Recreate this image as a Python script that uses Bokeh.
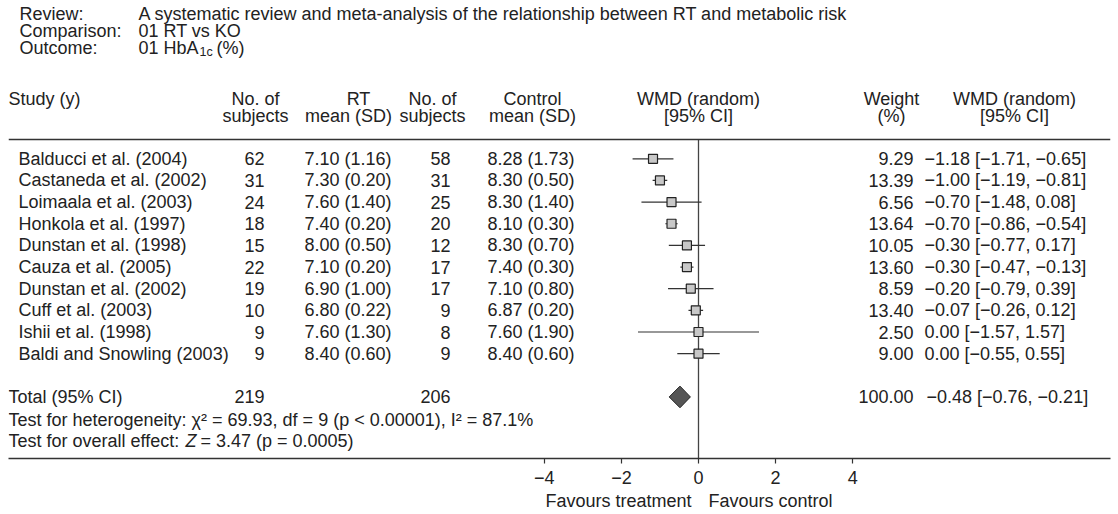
from bokeh.plotting import figure
from bokeh.layouts import column
from bokeh.models import Range1d, FixedTicker, ColumnDataSource, Span, CustomJSTickFormatter
from bokeh.core.properties import value
from bokeh.embed import file_html
from bokeh.resources import INLINE

# ---------------- data ----------------
studies = ["Balducci et al. (2004)", "Castaneda et al. (2002)", "Loimaala et al. (2003)",
           "Honkola et al. (1997)", "Dunstan et al. (1998)", "Cauza et al. (2005)",
           "Dunstan et al. (2002)", "Cuff et al. (2003)", "Ishii et al. (1998)",
           "Baldi and Snowling (2003)"]
n_rt = [62, 31, 24, 18, 15, 22, 19, 10, 9, 9]
rt_mean = [7.10, 7.30, 7.60, 7.40, 8.00, 7.10, 6.90, 6.80, 7.60, 8.40]
rt_sd = [1.16, 0.20, 1.40, 0.20, 0.50, 0.20, 1.00, 0.22, 1.30, 0.60]
n_ctl = [58, 31, 25, 20, 12, 17, 17, 9, 8, 9]
ctl_mean = [8.28, 8.30, 8.30, 8.10, 8.30, 7.40, 7.10, 6.87, 7.60, 8.40]
ctl_sd = [1.73, 0.50, 1.40, 0.30, 0.70, 0.30, 0.80, 0.20, 1.90, 0.60]
weight = [9.29, 13.39, 6.56, 13.64, 10.05, 13.60, 8.59, 13.40, 2.50, 9.00]
wmd = [-1.18, -1.00, -0.70, -0.70, -0.30, -0.30, -0.20, -0.07, 0.00, 0.00]
ci_lo = [-1.71, -1.19, -1.48, -0.86, -0.77, -0.47, -0.79, -0.26, -1.57, -0.55]
ci_hi = [-0.65, -0.81, 0.08, -0.54, 0.17, -0.13, 0.39, 0.12, 1.57, 0.55]

total_n_rt = 219
total_n_ctl = 206
total_weight = 100.00
total_wmd = -0.48
total_lo = -0.76
total_hi = -0.21

x_ticks = [-4, -2, 0, 2, 4]

review_text = "A systematic review and meta-analysis of the relationship between RT and metabolic risk"
comparison_text = "01 RT vs KO"
heterogeneity_text = "Test for heterogeneity: \u03c7\u00b2 = 69.93, df = 9 (p < 0.00001), I\u00b2 = 87.1%"
favours_left = "Favours treatment"
favours_right = "Favours control"

# ---------------- helpers ----------------
def f2(v):
    return f"{v:.2f}".replace("-", "\u2212")

ZERO_PX = 698.0
PX_PER_UNIT = 38.55
ROW0_PX = 158.3
ROW_PX = 21.65


def X(px):  # page-pixel column position -> WMD data units
    return (px - ZERO_PX) / PX_PER_UNIT


def Y(py):  # page-pixel row position -> row units
    return (py - ROW0_PX) / ROW_PX


FONT = value("Liberation Sans")
FS = "18px"
TXT = "#222222"

rows = list(range(len(studies)))
total_row = 11

W = 1116
LEFT, RIGHT = 8, 1110
H1 = 491
H2 = 21
FRAME_BOTTOM = 458

xr = Range1d(X(LEFT), X(RIGHT))


def base(fig):
    fig.min_border_left = LEFT
    fig.min_border_right = W - RIGHT
    fig.min_border_top = 0
    fig.outline_line_color = None
    fig.xgrid.visible = False
    fig.ygrid.visible = False
    fig.background_fill_color = "white"
    fig.border_fill_color = "white"


p = figure(width=W, height=H1, output_backend="svg", toolbar_location=None,
           x_range=xr, y_range=Range1d(Y(FRAME_BOTTOM), Y(0)),
           y_axis_location=None, tools="")
base(p)
p.min_border_bottom = H1 - FRAME_BOTTOM

ax = p.xaxis[0]
ax.ticker = FixedTicker(ticks=x_ticks)
ax.formatter = CustomJSTickFormatter(code="return tick < 0 ? '\\u2212' + Math.abs(tick) : String(tick);")
ax.axis_line_color = "#333333"
ax.axis_line_width = 1.5
ax.major_tick_line_color = "#333333"
ax.major_tick_line_width = 1.2
ax.major_tick_out = 5
ax.major_tick_in = 0
ax.minor_tick_line_color = None
ax.major_label_text_font = "Liberation Sans"
ax.major_label_text_font_size = FS
ax.major_label_text_color = TXT
ax.major_label_standoff = 7


def txt(fig, x, y, text, align="left", size=FS, style="normal"):
    src = ColumnDataSource(dict(x=x, y=y, text=text))
    fig.text(x="x", y="y", text="text", source=src, text_font=FONT, text_font_size=size,
             text_align=align, text_baseline="middle", text_color=TXT, text_font_style=style)


# ---- meta block ----
txt(p, [X(19)] * 3, [Y(13), Y(30), Y(47)], ["Review:", "Comparison:", "Outcome:"])
txt(p, [X(138)] * 2, [Y(13), Y(30)], [review_text, comparison_text])
txt(p, [X(138)], [Y(47)], ["01 HbA"])
txt(p, [X(199)], [Y(51)], ["1c"], size="12.5px")
txt(p, [X(216)], [Y(47)], ["(%)"])

# ---- header ----
h1, h2 = Y(98), Y(115)
txt(p, [X(8)], [h1], ["Study (y)"])
hx1 = [255, 358, 432, 532, 698, 891, 1014]
hx2 = [255, 348, 432, 532, 698, 891, 1014]
txt(p, [X(v) for v in hx1], [h1] * 7,
    ["No. of", "RT", "No. of", "Control", "WMD (random)", "Weight", "WMD (random)"], align="center")
txt(p, [X(v) for v in hx2], [h2] * 7,
    ["subjects", "mean (SD)", "subjects", "mean (SD)", "[95% CI]", "(%)", "[95% CI]"], align="center")

p.add_layout(Span(location=Y(139), dimension="width", line_color="#333333", line_width=1.5))

# ---- study rows ----
n = len(rows)
txt(p, [X(18)] * n, rows, studies)
txt(p, [X(264)] * n, rows, [str(v) for v in n_rt], align="right")
txt(p, [X(304)] * n, rows, [f"{m:.2f} ({s:.2f})" for m, s in zip(rt_mean, rt_sd)])
txt(p, [X(450)] * n, rows, [str(v) for v in n_ctl], align="right")
txt(p, [X(487)] * n, rows, [f"{m:.2f} ({s:.2f})" for m, s in zip(ctl_mean, ctl_sd)])
txt(p, [X(913)] * n, rows, [f"{w:.2f}" for w in weight], align="right")
txt(p, [X(924)] * n, rows, [f"{f2(e)} [{f2(l)}, {f2(h)}]" for e, l, h in zip(wmd, ci_lo, ci_hi)])

# ---- total + tests ----
txt(p, [X(8)], [total_row], ["Total (95% CI)"])
txt(p, [X(264)], [total_row], [str(total_n_rt)], align="right")
txt(p, [X(450)], [total_row], [str(total_n_ctl)], align="right")
txt(p, [X(913)], [total_row], [f"{total_weight:.2f}"], align="right")
txt(p, [X(926)], [total_row], [f"{f2(total_wmd)} [{f2(total_lo)}, {f2(total_hi)}]"])
txt(p, [X(8)], [Y(419)], [heterogeneity_text])
txt(p, [X(8)], [Y(440)], ["Test for overall effect:"])
txt(p, [X(185)], [Y(440)], ["Z"], style="italic")
txt(p, [X(200)], [Y(440)], ["= 3.47 (p = 0.0005)"])

# ---- forest ----
p.segment(x0=[0], x1=[0], y0=[Y(139)], y1=[Y(FRAME_BOTTOM)], line_color="#444444", line_width=1.3)
p.segment(x0=ci_lo, x1=ci_hi, y0=rows, y1=rows, line_color="#333333", line_width=1.2)
p.scatter(x=wmd, y=rows, marker="square", size=9, fill_color="#c8c8c8",
          line_color="#222222", line_width=1.2)
p.patch(x=[total_lo, total_wmd, total_hi, total_wmd],
        y=[total_row, total_row - 0.5, total_row, total_row + 0.5],
        fill_color="#555555", line_color="#222222", line_width=1.0)

# ---- favours labels strip below the axis ----
q = figure(width=W, height=H2, output_backend="svg", toolbar_location=None,
           x_range=xr, y_range=Range1d(H2, 0), x_axis_location=None, y_axis_location=None, tools="")
base(q)
q.min_border_bottom = 0
txt(q, [X(691)], [9], [favours_left], align="right")
txt(q, [X(708)], [9], [favours_right], align="left")

layout = column(p, q, spacing=0)
open("out.html", "w").write(file_html(layout, INLINE))
